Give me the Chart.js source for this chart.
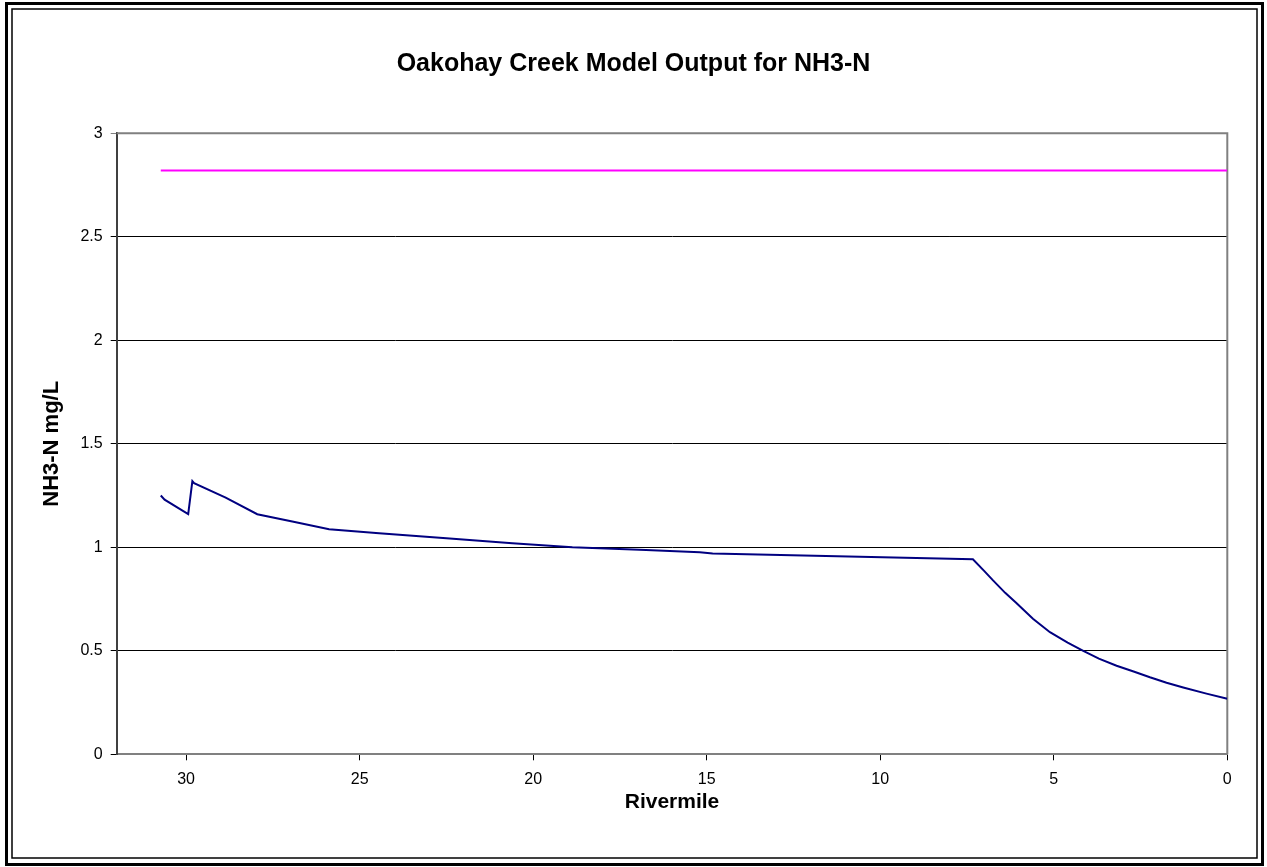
<!DOCTYPE html>
<html>
<head>
<meta charset="utf-8">
<title>Oakohay Creek Model Output for NH3-N</title>
<script src="https://cdn.jsdelivr.net/npm/chart.js@4/dist/chart.umd.min.js"></script>
<style>
  html, body { margin: 0; padding: 0; background: #fff; }
  canvas { display: block; }
</style>
</head>
<body>
<canvas id="nh3Chart" width="1267" height="867"></canvas>
<script>
// model output (rivermile, NH3-N mg/L)
var modelRivermile = [30.73, 30.62, 29.94, 29.82, 29.77, 28.86, 27.95, 26.94, 25.88, 24.44, 22.5, 20.6, 18.87, 16.75, 15.2, 14.83, 7.33, 7.0, 6.75, 6.4, 6.07, 5.6, 5.11, 4.6, 4.15, 3.7, 3.19, 2.7, 2.23, 1.75, 1.27, 0.6, 0];
var modelNH3 = [1.25, 1.23, 1.16, 1.32, 1.31, 1.24, 1.16, 1.125, 1.087, 1.068, 1.044, 1.019, 1.0, 0.987, 0.976, 0.97, 0.942, 0.885, 0.84, 0.78, 0.73, 0.655, 0.59, 0.54, 0.5, 0.462, 0.428, 0.4, 0.372, 0.346, 0.323, 0.293, 0.268];

// criterion line
var criterionRivermile = [30.73, 0];
var criterionNH3 = [2.82, 2.82];

var xTicks = [0, 5, 10, 15, 20, 25, 30];
var yTicks = [0, 0.5, 1, 1.5, 2, 2.5, 3];

function toPoints(xs, ys){
  return xs.map(function(x, i){ return { x: x, y: ys[i] }; });
}

// white background, plot area border and the double frame round the chart
var framePlugin = {
  id: 'frame',
  beforeDraw: function(chart){
    var ctx = chart.ctx;
    ctx.save();
    ctx.fillStyle = '#fff';
    ctx.fillRect(0, 0, chart.width, chart.height);
    ctx.restore();
  },
  beforeDatasetsDraw: function(chart){
    var ctx = chart.ctx, a = chart.chartArea;
    ctx.save();
    ctx.strokeStyle = '#808080';
    ctx.lineWidth = 2;
    ctx.beginPath();
    ctx.moveTo(a.left, a.top);
    ctx.lineTo(a.right, a.top);
    ctx.lineTo(a.right, a.bottom);
    ctx.stroke();
    ctx.restore();
  },
  afterDraw: function(chart){
    var ctx = chart.ctx, w = chart.width, h = chart.height;
    ctx.save();
    ctx.strokeStyle = '#000';
    ctx.lineWidth = 3;
    ctx.strokeRect(6.5, 3.5, w - 11, h - 6);
    ctx.lineWidth = 1.5;
    ctx.strokeRect(12, 9, w - 22, h - 18);
    ctx.restore();
  }
};

var font = "'Liberation Sans', Arial, sans-serif";

new Chart(document.getElementById('nh3Chart').getContext('2d'), {
  type: 'scatter',
  data: {
    datasets: [
      { label: 'Criterion', data: toPoints(criterionRivermile, criterionNH3), showLine: true, borderColor: '#ff00ff', borderWidth: 2, pointRadius: 0, fill: false },
      { label: 'NH3-N', data: toPoints(modelRivermile, modelNH3), showLine: true, borderColor: '#000080', borderWidth: 2, pointRadius: 0, fill: false, tension: 0 }
    ]
  },
  options: {
    responsive: false,
    animation: false,
    layout: { padding: 0 },
    plugins: {
      legend: { display: false },
      tooltip: { enabled: false },
      title: {
        display: true,
        text: 'Oakohay Creek Model Output for NH3-N',
        color: '#000',
        font: { family: font, size: 25, weight: 'bold' },
        padding: { top: 49, bottom: 54.3 }
      }
    },
    scales: {
      x: {
        type: 'linear',
        reverse: true,
        min: 0,
        max: 32,
        afterFit: function(scale){ scale.height = 112.7; },
        afterBuildTicks: function(scale){ scale.ticks = xTicks.map(function(v){ return { value: v }; }); },
        ticks: { color: '#000', font: { family: font, size: 16 }, padding: 10, maxRotation: 0, callback: function(v){ return String(v); } },
        grid: { drawOnChartArea: false, drawTicks: true, tickLength: 6, color: '#000', lineWidth: 1 },
        border: { display: true, color: '#808080', width: 2 },
        title: { display: true, text: 'Rivermile', color: '#000', font: { family: font, size: 21, weight: 'bold' }, padding: { top: 0, bottom: 52.4 } }
      },
      y: {
        type: 'linear',
        min: 0,
        max: 3,
        afterFit: function(scale){ scale.width = 116.7; },
        afterBuildTicks: function(scale){ scale.ticks = yTicks.map(function(v){ return { value: v }; }); },
        ticks: { color: '#000', font: { family: font, size: 16 }, padding: 8, callback: function(v){ return String(v); } },
        grid: {
          drawTicks: true,
          tickLength: 6,
          lineWidth: 1,
          color: function(c){ return c.tick && c.tick.value === 3 ? '#808080' : '#000'; }
        },
        border: { display: true, color: '#404040', width: 2 },
        title: { display: true, text: 'NH3-N mg/L', color: '#000', font: { family: font, size: 22, weight: 'bold' }, padding: { top: 38.8, bottom: 0 } }
      },
      // empty right-hand axis, only keeps the space right of the plot
      yPad: {
        type: 'linear',
        position: 'right',
        afterFit: function(scale){ scale.width = 39.7; },
        ticks: { display: false },
        grid: { display: false },
        border: { display: false }
      }
    }
  },
  plugins: [framePlugin]
});
</script>
</body>
</html>
